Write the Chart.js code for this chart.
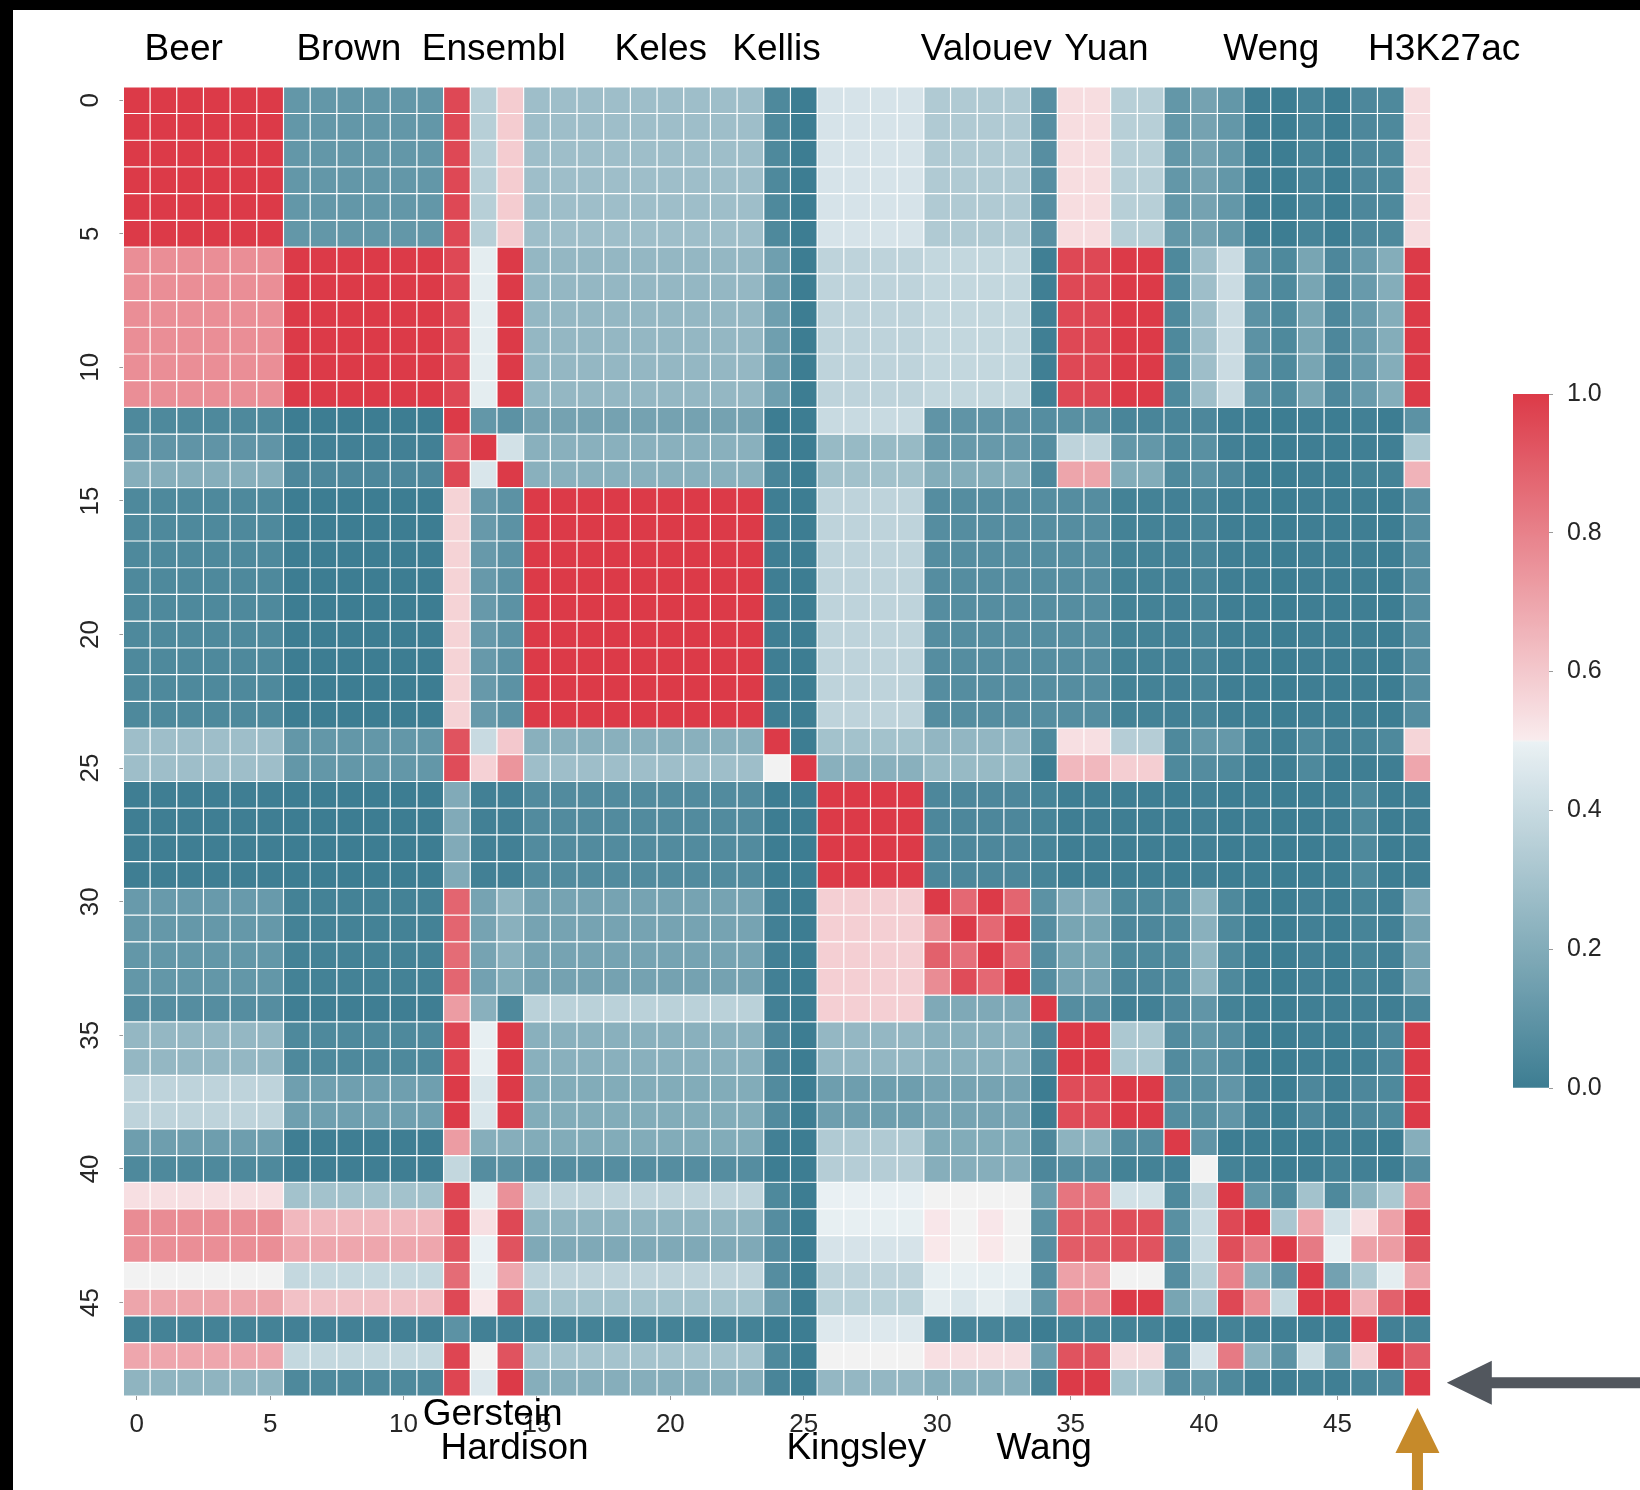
<!DOCTYPE html>
<html>
<head>
<meta charset="utf-8">
<script src="https://cdn.jsdelivr.net/npm/chart.js@4.4.1/dist/chart.umd.min.js"></script>
<style>
  html, body { margin: 0; padding: 0; background: #ffffff; }
  #wrap { position: relative; width: 1640px; height: 1490px; overflow: hidden; background: #ffffff; }
  #main { position: absolute; left: 0; top: 0; }
  #cbar { position: absolute; left: 1480px; top: 350px; }
  #topbar { position: absolute; left: 0; top: 0; width: 1640px; height: 10px; background: #000; }
  #leftbar { position: absolute; left: 0; top: 0; width: 13px; height: 1490px; background: #000; }
</style>
</head>
<body>
<div id="wrap">
  <canvas id="main" width="1640" height="1490"></canvas>
  <canvas id="cbar" width="160" height="790"></canvas>
  <div id="topbar"></div>
  <div id="leftbar"></div>
</div>
<script>
// ---------------- data ----------------
const categories = ['0','1','2','3','4','5','6','7','8','9','10','11','12','13','14','15','16','17','18','19','20','21','22','23','24','25','26','27','28','29','30','31','32','33','34','35','36','37','38','39','40','41','42','43','44','45','46','47','48'];
const xTickLabels = ['0','5','10','15','20','25','30','35','40','45'];
const yTickLabels = ['0','5','10','15','20','25','30','35','40','45'];
const groupNames = ['Beer','Brown','Ensembl','Gerstein','Hardison','Keles','Kellis','Kingsley','Valouev','Wang','Yuan','Weng','H3K27ac'];
const colorbarTicks = ['0.0','0.2','0.4','0.6','0.8','1.0'];

// rows (index 0..48), columns (index 0..48)
const matrix = [
[1,1,1,1,1,1,.11,.11,.11,.11,.11,.11,.96,.35,.59,.28,.28,.28,.28,.28,.28,.28,.28,.28,.05,0,.44,.44,.44,.44,.33,.33,.33,.33,.075,.54,.54,.35,.35,.11,.16,.11,.01,0,.03,0,.045,.05,.54],
[1,1,1,1,1,1,.11,.11,.11,.11,.11,.11,.96,.35,.59,.28,.28,.28,.28,.28,.28,.28,.28,.28,.05,0,.44,.44,.44,.44,.33,.33,.33,.33,.075,.54,.54,.35,.35,.11,.16,.11,.01,0,.03,0,.045,.05,.54],
[1,1,1,1,1,1,.11,.11,.11,.11,.11,.11,.96,.35,.59,.28,.28,.28,.28,.28,.28,.28,.28,.28,.05,0,.44,.44,.44,.44,.33,.33,.33,.33,.075,.54,.54,.35,.35,.11,.16,.11,.01,0,.03,0,.045,.05,.54],
[1,1,1,1,1,1,.11,.11,.11,.11,.11,.11,.96,.35,.59,.28,.28,.28,.28,.28,.28,.28,.28,.28,.05,0,.44,.44,.44,.44,.33,.33,.33,.33,.075,.54,.54,.35,.35,.11,.16,.11,.01,0,.03,0,.045,.05,.54],
[1,1,1,1,1,1,.11,.11,.11,.11,.11,.11,.96,.35,.59,.28,.28,.28,.28,.28,.28,.28,.28,.28,.05,0,.44,.44,.44,.44,.33,.33,.33,.33,.075,.54,.54,.35,.35,.11,.16,.11,.01,0,.03,0,.045,.05,.54],
[1,1,1,1,1,1,.11,.11,.11,.11,.11,.11,.96,.35,.59,.28,.28,.28,.28,.28,.28,.28,.28,.28,.05,0,.44,.44,.44,.44,.33,.33,.33,.33,.075,.54,.54,.35,.35,.11,.16,.11,.01,0,.03,0,.045,.05,.54],
[.765,.765,.765,.765,.765,.765,1,1,1,1,1,1,.96,.48,1,.25,.25,.25,.25,.25,.25,.25,.25,.25,.145,0,.37,.37,.37,.37,.385,.385,.385,.385,.01,.96,.96,1,1,.05,.28,.405,.09,.05,.17,.045,.125,.205,1],
[.765,.765,.765,.765,.765,.765,1,1,1,1,1,1,.96,.48,1,.25,.25,.25,.25,.25,.25,.25,.25,.25,.145,0,.37,.37,.37,.37,.385,.385,.385,.385,.01,.96,.96,1,1,.05,.28,.405,.09,.05,.17,.045,.125,.205,1],
[.765,.765,.765,.765,.765,.765,1,1,1,1,1,1,.96,.48,1,.25,.25,.25,.25,.25,.25,.25,.25,.25,.145,0,.37,.37,.37,.37,.385,.385,.385,.385,.01,.96,.96,1,1,.05,.28,.405,.09,.05,.17,.045,.125,.205,1],
[.765,.765,.765,.765,.765,.765,1,1,1,1,1,1,.96,.48,1,.25,.25,.25,.25,.25,.25,.25,.25,.25,.145,0,.37,.37,.37,.37,.385,.385,.385,.385,.01,.96,.96,1,1,.05,.28,.405,.09,.05,.17,.045,.125,.205,1],
[.765,.765,.765,.765,.765,.765,1,1,1,1,1,1,.96,.48,1,.25,.25,.25,.25,.25,.25,.25,.25,.25,.145,0,.37,.37,.37,.37,.385,.385,.385,.385,.01,.96,.96,1,1,.05,.28,.405,.09,.05,.17,.045,.125,.205,1],
[.765,.765,.765,.765,.765,.765,1,1,1,1,1,1,.96,.48,1,.25,.25,.25,.25,.25,.25,.25,.25,.25,.145,0,.37,.37,.37,.37,.385,.385,.385,.385,.01,.96,.96,1,1,.05,.28,.405,.09,.05,.17,.045,.125,.205,1],
[.05,.05,.05,.05,.05,.05,0,0,0,0,0,0,1,.11,.09,.16,.16,.16,.16,.16,.16,.16,.16,.16,0,0,.40,.40,.40,.40,.10,.10,.10,.10,.07,.08,.08,.035,.035,.035,.045,.01,0,0,.01,0,.015,0,.09],
[.10,.10,.10,.10,.10,.10,.015,.015,.015,.015,.015,.015,.87,1,.43,.22,.22,.22,.22,.22,.22,.22,.22,.22,.015,0,.26,.26,.26,.26,.12,.12,.12,.12,.07,.37,.37,.11,.11,.05,.08,.015,0,0,.005,0,.01,.01,.32],
[.21,.21,.21,.21,.21,.21,.045,.045,.045,.045,.045,.045,.96,.45,1,.22,.22,.22,.22,.22,.22,.22,.22,.22,.035,0,.29,.29,.29,.29,.205,.205,.205,.205,.045,.70,.70,.20,.20,.05,.09,.045,0,0,.005,0,.02,.02,.66],
[.05,.05,.05,.05,.05,.05,0,0,0,0,0,0,.57,.12,.09,1,1,1,1,1,1,1,1,1,.005,0,.37,.37,.37,.37,.07,.07,.07,.07,.07,.07,.07,.02,.02,.015,.035,.005,0,0,.005,0,.005,0,.07],
[.05,.05,.05,.05,.05,.05,0,0,0,0,0,0,.57,.12,.09,1,1,1,1,1,1,1,1,1,.005,0,.37,.37,.37,.37,.07,.07,.07,.07,.07,.07,.07,.02,.02,.015,.035,.005,0,0,.005,0,.005,0,.07],
[.05,.05,.05,.05,.05,.05,0,0,0,0,0,0,.57,.12,.09,1,1,1,1,1,1,1,1,1,.005,0,.37,.37,.37,.37,.07,.07,.07,.07,.07,.07,.07,.02,.02,.015,.035,.005,0,0,.005,0,.005,0,.07],
[.05,.05,.05,.05,.05,.05,0,0,0,0,0,0,.57,.12,.09,1,1,1,1,1,1,1,1,1,.005,0,.37,.37,.37,.37,.07,.07,.07,.07,.07,.07,.07,.02,.02,.015,.035,.005,0,0,.005,0,.005,0,.07],
[.05,.05,.05,.05,.05,.05,0,0,0,0,0,0,.57,.12,.09,1,1,1,1,1,1,1,1,1,.005,0,.37,.37,.37,.37,.07,.07,.07,.07,.07,.07,.07,.02,.02,.015,.035,.005,0,0,.005,0,.005,0,.07],
[.05,.05,.05,.05,.05,.05,0,0,0,0,0,0,.57,.12,.09,1,1,1,1,1,1,1,1,1,.005,0,.37,.37,.37,.37,.07,.07,.07,.07,.07,.07,.07,.02,.02,.015,.035,.005,0,0,.005,0,.005,0,.07],
[.05,.05,.05,.05,.05,.05,0,0,0,0,0,0,.57,.12,.09,1,1,1,1,1,1,1,1,1,.005,0,.37,.37,.37,.37,.07,.07,.07,.07,.07,.07,.07,.02,.02,.015,.035,.005,0,0,.005,0,.005,0,.07],
[.05,.05,.05,.05,.05,.05,0,0,0,0,0,0,.57,.12,.09,1,1,1,1,1,1,1,1,1,.005,0,.37,.37,.37,.37,.07,.07,.07,.07,.07,.07,.07,.02,.02,.015,.035,.005,0,0,.005,0,.005,0,.07],
[.05,.05,.05,.05,.05,.05,0,0,0,0,0,0,.57,.12,.09,1,1,1,1,1,1,1,1,1,.005,0,.37,.37,.37,.37,.07,.07,.07,.07,.07,.07,.07,.02,.02,.015,.035,.005,0,0,.005,0,.005,0,.07],
[.28,.28,.28,.28,.28,.28,.11,.11,.11,.11,.11,.11,.93,.40,.60,.22,.22,.22,.22,.22,.22,.22,.22,.22,1,0,.295,.295,.295,.295,.245,.245,.245,.245,.05,.535,.535,.345,.345,.05,.115,.115,.02,.01,.05,.015,.03,.05,.565],
[.28,.28,.28,.28,.28,.28,.11,.11,.11,.11,.11,.11,.95,.575,.745,.28,.28,.28,.28,.28,.28,.28,.28,.28,.5,1,.22,.22,.22,.22,.26,.26,.26,.26,0,.645,.645,.585,.585,.05,.065,.05,.005,.005,.05,0,.005,.005,.695],
[.005,.005,.005,.005,.005,.005,0,0,0,0,0,0,.195,.015,.015,.06,.06,.06,.06,.06,.06,.06,.06,.06,0,0,1,1,1,1,.045,.045,.045,.045,.03,.005,.005,.005,.005,0,.015,0,0,0,0,0,.05,0,.005],
[.005,.005,.005,.005,.005,.005,0,0,0,0,0,0,.195,.015,.015,.06,.06,.06,.06,.06,.06,.06,.06,.06,0,0,1,1,1,1,.045,.045,.045,.045,.03,.005,.005,.005,.005,0,.015,0,0,0,0,0,.05,0,.005],
[.005,.005,.005,.005,.005,.005,0,0,0,0,0,0,.195,.015,.015,.06,.06,.06,.06,.06,.06,.06,.06,.06,0,0,1,1,1,1,.045,.045,.045,.045,.03,.005,.005,.005,.005,0,.015,0,0,0,0,0,.05,0,.005],
[.005,.005,.005,.005,.005,.005,0,0,0,0,0,0,.195,.015,.015,.06,.06,.06,.06,.06,.06,.06,.06,.06,0,0,1,1,1,1,.045,.045,.045,.045,.03,.005,.005,.005,.005,0,.015,0,0,0,0,0,.05,0,.005],
[.125,.125,.125,.125,.125,.125,.02,.02,.02,.02,.02,.02,.88,.165,.235,.165,.165,.165,.165,.165,.165,.165,.165,.165,.015,0,.58,.58,.58,.58,1,.87,1,.88,.09,.195,.195,.05,.05,.05,.24,.05,0,0,.015,0,.03,.015,.195],
[.115,.115,.115,.115,.115,.115,.02,.02,.02,.02,.02,.02,.88,.165,.22,.165,.165,.165,.165,.165,.165,.165,.165,.165,.015,0,.58,.58,.58,.58,.77,1,.87,1,.07,.17,.17,.045,.045,.05,.22,.05,0,0,.015,0,.03,.015,.16],
[.11,.11,.11,.11,.11,.11,.02,.02,.02,.02,.02,.02,.86,.165,.22,.165,.165,.165,.165,.165,.165,.165,.165,.165,.015,0,.58,.58,.58,.58,.89,.85,1,.87,.07,.17,.17,.05,.05,.05,.24,.05,0,0,.015,0,.03,.015,.16],
[.11,.11,.11,.11,.11,.11,.02,.02,.02,.02,.02,.02,.875,.155,.20,.16,.16,.16,.16,.16,.16,.16,.16,.16,.015,0,.58,.58,.58,.58,.77,.95,.87,1,.07,.165,.165,.045,.045,.05,.235,.05,0,0,.015,0,.03,.015,.16],
[.07,.07,.07,.07,.07,.07,.005,.005,.005,.005,.005,.005,.725,.22,.05,.36,.36,.36,.36,.36,.36,.36,.36,.36,.015,0,.58,.58,.58,.58,.19,.19,.19,.19,1,.07,.07,.015,.015,.045,.105,.02,0,0,.01,.005,.015,.005,.035],
[.25,.25,.25,.25,.25,.25,.05,.05,.05,.05,.05,.05,.97,.49,1,.22,.22,.22,.22,.22,.22,.22,.22,.22,.045,0,.25,.25,.25,.25,.22,.22,.22,.22,.045,1,1,.32,.32,.06,.11,.07,0,0,.01,0,.015,.045,1],
[.25,.25,.25,.25,.25,.25,.05,.05,.05,.05,.05,.05,.97,.49,1,.22,.22,.22,.22,.22,.22,.22,.22,.22,.045,0,.25,.25,.25,.25,.22,.22,.22,.22,.045,1,1,.32,.32,.06,.11,.07,0,0,.01,0,.015,.045,1],
[.37,.37,.37,.37,.37,.37,.145,.145,.145,.145,.145,.145,1,.45,1,.20,.20,.20,.20,.20,.20,.20,.20,.20,.06,0,.14,.14,.14,.14,.165,.165,.165,.165,0,.95,.95,1,1,.07,.08,.105,.015,0,.045,.005,.045,.05,1],
[.37,.37,.37,.37,.37,.37,.145,.145,.145,.145,.145,.145,1,.45,1,.20,.20,.20,.20,.20,.20,.20,.20,.20,.06,0,.14,.14,.14,.14,.165,.165,.165,.165,0,.95,.95,1,1,.07,.08,.105,.015,0,.045,.005,.045,.05,1],
[.14,.14,.14,.14,.14,.14,.005,.005,.005,.005,.005,.005,.725,.21,.21,.20,.20,.20,.20,.20,.20,.20,.20,.20,.015,0,.33,.33,.33,.33,.20,.20,.20,.20,.045,.23,.23,.07,.07,1,.10,0,0,0,0,.005,.005,0,.21],
[.05,.05,.05,.05,.05,.05,.005,.005,.005,.005,.005,.005,.385,.07,.085,.07,.07,.07,.07,.07,.07,.07,.07,.07,0,0,.345,.345,.345,.345,.21,.21,.21,.21,.045,.07,.07,.02,.02,.015,.5,.02,.005,0,.005,.02,.015,0,.07],
[.535,.535,.535,.535,.535,.535,.295,.295,.295,.295,.295,.295,.97,.48,.755,.37,.37,.37,.37,.37,.37,.37,.37,.37,.05,0,.495,.495,.495,.495,.5,.5,.5,.5,.14,.835,.835,.43,.43,.05,.37,1,.11,.05,.295,.05,.23,.32,.765],
[.77,.77,.77,.77,.77,.77,.645,.645,.645,.645,.645,.645,.97,.535,.96,.235,.235,.235,.235,.235,.235,.235,.235,.235,.07,0,.49,.49,.49,.49,.515,.5,.515,.5,.09,.905,.905,.945,.945,.08,.40,.96,1,.315,.695,.43,.535,.71,.97],
[.765,.765,.765,.765,.765,.765,.695,.695,.695,.695,.695,.695,.93,.495,.93,.19,.19,.19,.19,.19,.19,.19,.19,.19,.07,0,.44,.44,.44,.44,.51,.5,.51,.5,.075,.905,.905,.93,.93,.07,.40,.945,.82,1,.82,.49,.71,.725,.945],
[.5,.5,.5,.5,.5,.5,.39,.39,.39,.39,.39,.39,.86,.49,.695,.37,.37,.37,.37,.37,.37,.37,.37,.37,.07,0,.37,.37,.37,.37,.49,.49,.49,.49,.07,.71,.71,.5,.5,.07,.35,.80,.23,.105,1,.155,.32,.48,.71],
[.70,.70,.70,.70,.70,.70,.62,.62,.62,.62,.62,.62,.96,.51,.93,.295,.295,.295,.295,.295,.295,.295,.295,.295,.14,0,.355,.355,.355,.355,.48,.45,.48,.45,.11,.77,.77,1,1,.17,.315,.96,.77,.39,1,1,.66,.89,1],
[.02,.02,.02,.02,.02,.02,.015,.015,.015,.015,.015,.015,.09,.015,.015,.02,.02,.02,.02,.02,.02,.02,.02,.02,0,0,.46,.46,.46,.46,.03,.03,.03,.03,0,.02,.02,.02,.02,0,.015,.02,.005,.01,.005,0,1,.015,.02],
[.695,.695,.695,.695,.695,.695,.39,.39,.39,.39,.39,.39,.97,.5,.93,.30,.30,.30,.30,.30,.30,.30,.30,.30,.05,0,.5,.5,.5,.5,.535,.535,.535,.535,.14,.93,.93,.545,.545,.07,.44,.82,.23,.09,.415,.14,.575,1,.91],
[.235,.235,.235,.235,.235,.235,.05,.05,.05,.05,.05,.05,.97,.46,1,.21,.21,.21,.21,.21,.21,.21,.21,.21,.035,0,.25,.25,.25,.25,.21,.21,.21,.21,.035,1,1,.295,.295,.07,.11,.05,.005,.005,.02,.01,.035,.045,1]
];

// ---------------- layout / style (kept apart from the data) ----------------
const groupLabelPos = [1.76, 7.95, 13.38, 13.34, 14.16, 19.64, 23.98, 26.97, 31.84, 34.01, 36.34, 42.52, 49.0];
const groupLabelRow = [0, 0, 0, 1, 2, 0, 0, 2, 0, 2, 0, 0, 0];
const labelBaselines = [60, 1425, 1459];

const cmapStops = [
  [0.0,   [61, 125, 146]],
  [0.498, [234, 241, 244]],
  [0.5,   [242, 242, 242]],
  [0.502, [249, 235, 237]],
  [1.0,   [220, 58, 72]]
];
function cmap(v) {
  v = Math.max(0, Math.min(1, v));
  for (let i = 1; i < cmapStops.length; i++) {
    const [v1, c1] = cmapStops[i];
    const [v0, c0] = cmapStops[i - 1];
    if (v <= v1) {
      const t = (v - v0) / (v1 - v0);
      const c = c0.map((a, k) => Math.round(a + (c1[k] - a) * t));
      return 'rgb(' + c.join(',') + ')';
    }
  }
  return 'rgb(220,58,72)';
}

const FONT = '"Liberation Sans", Arial, Helvetica, sans-serif';
const TICK_COLOR = '#262626';

// one stacked bar dataset per heat-map row; each cell is a unit-height bar coloured by its value
const datasets = matrix.map((row, r) => ({
  label: 'row ' + r,
  data: row.map((v, c) => ({ x: categories[c], y: 1, v: v })),
  backgroundColor: (ctx) => cmap(ctx.raw ? ctx.raw.v : 0),
  borderColor: '#ffffff',
  borderWidth: 0.6,
  borderSkipped: false,
  inflateAmount: 0,
  barPercentage: 1,
  categoryPercentage: 1,
  stack: 'heat'
}));

const overlayPlugin = {
  id: 'overlay',
  afterDraw(chart) {
    const ctx = chart.ctx;
    const xs = chart.scales.x, ys = chart.scales.y;
    const area = chart.chartArea;
    ctx.save();
    // group labels
    ctx.font = '37px ' + FONT;
    ctx.fillStyle = '#000000';
    ctx.textAlign = 'center';
    ctx.textBaseline = 'alphabetic';
    groupNames.forEach((name, i) => {
      const x = xs.getPixelForValue(groupLabelPos[i]);
      ctx.fillText(name, x, labelBaselines[groupLabelRow[i]]);
    });
    // grey arrow pointing at the last row
    const ry = ys.getPixelForValue(48.5);
    const tipX = area.right + 16;
    ctx.fillStyle = '#52575e';
    ctx.beginPath();
    ctx.moveTo(tipX, ry);
    ctx.lineTo(tipX + 45, ry - 22);
    ctx.lineTo(tipX + 45, ry - 5.5);
    ctx.lineTo(chart.width, ry - 5.5);
    ctx.lineTo(chart.width, ry + 5.5);
    ctx.lineTo(tipX + 45, ry + 5.5);
    ctx.lineTo(tipX + 45, ry + 22);
    ctx.closePath();
    ctx.fill();
    // orange arrow pointing at the last column
    const cx = xs.getPixelForValue(48);
    const tipY = area.bottom + 12;
    ctx.fillStyle = '#c68a2a';
    ctx.beginPath();
    ctx.moveTo(cx, tipY);
    ctx.lineTo(cx + 22, tipY + 45);
    ctx.lineTo(cx + 5.5, tipY + 45);
    ctx.lineTo(cx + 5.5, chart.height);
    ctx.lineTo(cx - 5.5, chart.height);
    ctx.lineTo(cx - 5.5, tipY + 45);
    ctx.lineTo(cx - 22, tipY + 45);
    ctx.closePath();
    ctx.fill();
    ctx.restore();
  }
};

new Chart(document.getElementById('main'), {
  type: 'bar',
  data: { labels: categories, datasets: datasets },
  options: {
    responsive: false,
    animation: false,
    devicePixelRatio: 1,
    layout: { padding: { left: 0, right: 209.2, top: 86.8, bottom: 0 } },
    plugins: { legend: { display: false }, tooltip: { enabled: false } },
    scales: {
      x: {
        type: 'category',
        offset: true,
        afterFit(s) { s.height = 94; },
        grid: {
          offset: false,
          drawOnChartArea: false,
          drawTicks: true,
          tickLength: 4,
          color: (c) => (c.tick && xTickLabels.includes(categories[c.index])) ? '#9a9a9a' : 'rgba(0,0,0,0)'
        },
        border: { display: false },
        ticks: {
          autoSkip: false,
          maxRotation: 0,
          minRotation: 0,
          padding: 9,
          color: TICK_COLOR,
          font: { family: FONT, size: 26 },
          callback: (v, i) => xTickLabels.includes(categories[i]) ? categories[i] : ''
        }
      },
      y: {
        type: 'linear',
        stacked: true,
        min: 0,
        max: 49,
        reverse: true,
        afterFit(s) { s.width = 123.4; },
        afterBuildTicks(s) { s.ticks = yTickLabels.map(l => ({ value: Number(l) + 0.5 })); },
        grid: { drawOnChartArea: false, drawTicks: true, tickLength: 4, color: '#9a9a9a' },
        border: { display: false },
        ticks: {
          minRotation: 90,
          maxRotation: 90,
          crossAlign: 'center',
          padding: 14,
          color: TICK_COLOR,
          font: { family: FONT, size: 26 },
          callback: (v, i) => yTickLabels[i]
        }
      }
    }
  },
  plugins: [overlayPlugin]
});

// ---------------- colour bar ----------------
new Chart(document.getElementById('cbar'), {
  type: 'bar',
  data: {
    labels: ['scale'],
    datasets: [{
      data: [[0, 1]],
      barPercentage: 1,
      categoryPercentage: 1,
      borderWidth: 0,
      backgroundColor: (ctx) => {
        const a = ctx.chart.chartArea;
        if (!a) return 'rgba(0,0,0,0)';
        const g = ctx.chart.ctx.createLinearGradient(0, a.bottom, 0, a.top);
        for (let i = 0; i <= 100; i++) { g.addColorStop(i / 100, cmap(i / 100)); }
        g.addColorStop(0.498, cmap(0.498));
        g.addColorStop(0.5, cmap(0.5));
        g.addColorStop(0.502, cmap(0.502));
        return g;
      }
    }]
  },
  options: {
    responsive: false,
    animation: false,
    devicePixelRatio: 1,
    layout: { padding: { left: 33, right: 0, top: 44, bottom: 52 } },
    plugins: { legend: { display: false }, tooltip: { enabled: false } },
    scales: {
      x: { display: false },
      y: {
        position: 'right',
        min: 0,
        max: 1,
        afterFit(s) { s.width = 91; },
        afterBuildTicks(s) { s.ticks = colorbarTicks.map(l => ({ value: Number(l) })); },
        grid: { drawOnChartArea: false, drawTicks: true, tickLength: 4, color: '#9a9a9a' },
        border: { display: false },
        ticks: {
          padding: 14,
          color: TICK_COLOR,
          font: { family: FONT, size: 25 },
          callback: (v, i) => colorbarTicks[i]
        }
      }
    }
  }
});
</script>
